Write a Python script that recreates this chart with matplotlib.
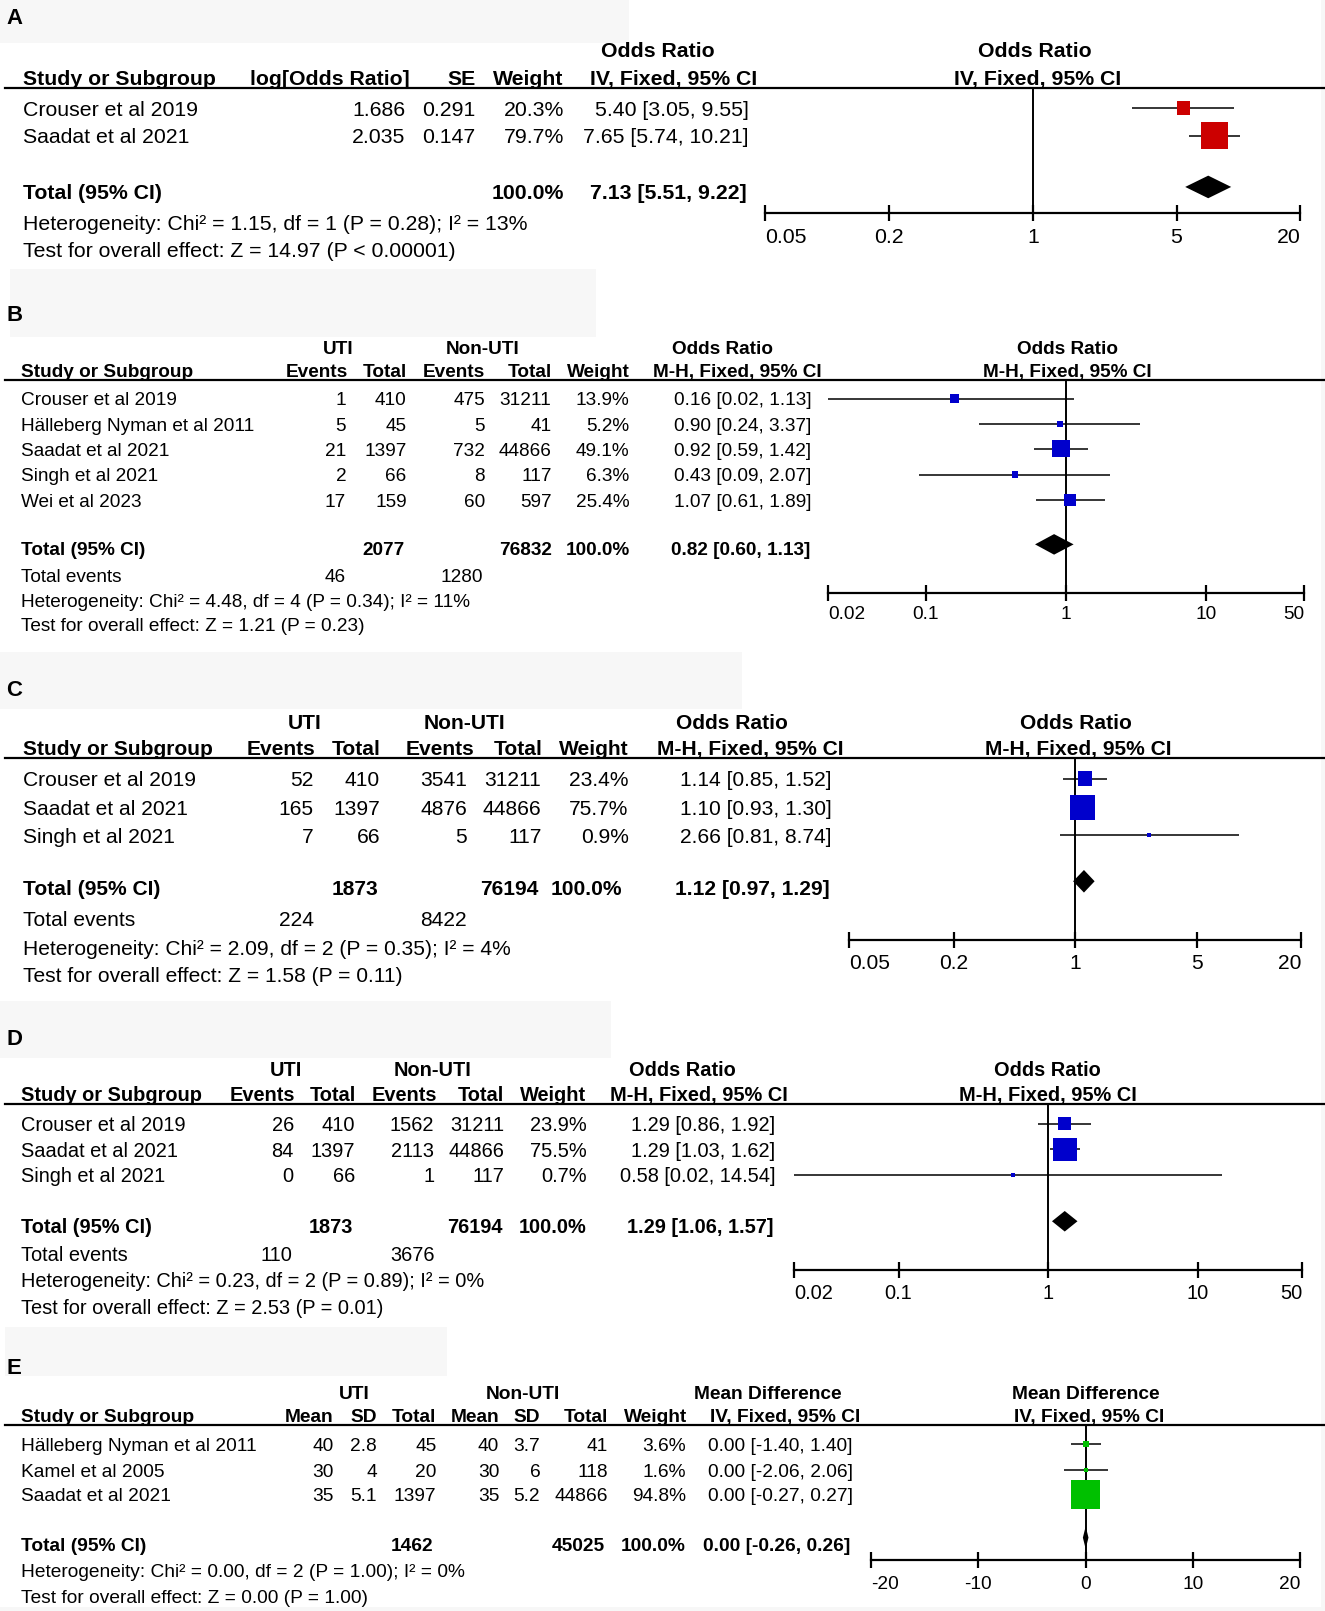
import numpy as np
import matplotlib
matplotlib.use("Agg")
import matplotlib.pyplot as plt
from matplotlib.patches import Rectangle
from matplotlib.ticker import NullLocator

plt.rcParams['font.family'] = ['Liberation Sans', 'DejaVu Sans']

W, H = 1325, 1611
S = 1325 / 1290.0          # layout below is written on a 1290 wide grid
Wd, Hd = W / S, H / S

# ---------------- data ----------------
# A : IV fixed, log odds ratio
a_studies = ["Crouser et al 2019", "Saadat et al 2021"]
a_log_or = [1.686, 2.035]
a_se = [0.291, 0.147]
a_weight = [20.3, 79.7]
a_or = [5.40, 7.65]
a_lo = [3.05, 5.74]
a_hi = [9.55, 10.21]
a_total = [7.13, 5.51, 9.22]
a_het = "Heterogeneity: Chi² = 1.15, df = 1 (P = 0.28); I² = 13%"
a_test = "Test for overall effect: Z = 14.97 (P < 0.00001)"
a_ticks = [0.05, 0.2, 1, 5, 20]

# B
b_studies = ["Crouser et al 2019", "Hälleberg Nyman et al 2011", "Saadat et al 2021",
             "Singh et al 2021", "Wei et al 2023"]
b_uti_events = [1, 5, 21, 2, 17]
b_uti_total = [410, 45, 1397, 66, 159]
b_non_events = [475, 5, 732, 8, 60]
b_non_total = [31211, 41, 44866, 117, 597]
b_weight = [13.9, 5.2, 49.1, 6.3, 25.4]
b_or = [0.16, 0.90, 0.92, 0.43, 1.07]
b_lo = [0.02, 0.24, 0.59, 0.09, 0.61]
b_hi = [1.13, 3.37, 1.42, 2.07, 1.89]
b_total = [0.82, 0.60, 1.13]
b_sum_total = [2077, 76832]
b_sum_events = [46, 1280]
b_het = "Heterogeneity: Chi² = 4.48, df = 4 (P = 0.34); I² = 11%"
b_test = "Test for overall effect: Z = 1.21 (P = 0.23)"
b_ticks = [0.02, 0.1, 1, 10, 50]

# C
c_studies = ["Crouser et al 2019", "Saadat et al 2021", "Singh et al 2021"]
c_uti_events = [52, 165, 7]
c_uti_total = [410, 1397, 66]
c_non_events = [3541, 4876, 5]
c_non_total = [31211, 44866, 117]
c_weight = [23.4, 75.7, 0.9]
c_or = [1.14, 1.10, 2.66]
c_lo = [0.85, 0.93, 0.81]
c_hi = [1.52, 1.30, 8.74]
c_total = [1.12, 0.97, 1.29]
c_sum_total = [1873, 76194]
c_sum_events = [224, 8422]
c_het = "Heterogeneity: Chi² = 2.09, df = 2 (P = 0.35); I² = 4%"
c_test = "Test for overall effect: Z = 1.58 (P = 0.11)"
c_ticks = [0.05, 0.2, 1, 5, 20]

# D
d_studies = ["Crouser et al 2019", "Saadat et al 2021", "Singh et al 2021"]
d_uti_events = [26, 84, 0]
d_uti_total = [410, 1397, 66]
d_non_events = [1562, 2113, 1]
d_non_total = [31211, 44866, 117]
d_weight = [23.9, 75.5, 0.7]
d_or = [1.29, 1.29, 0.58]
d_lo = [0.86, 1.03, 0.02]
d_hi = [1.92, 1.62, 14.54]
d_total = [1.29, 1.06, 1.57]
d_sum_total = [1873, 76194]
d_sum_events = [110, 3676]
d_het = "Heterogeneity: Chi² = 0.23, df = 2 (P = 0.89); I² = 0%"
d_test = "Test for overall effect: Z = 2.53 (P = 0.01)"
d_ticks = [0.02, 0.1, 1, 10, 50]

# E : mean difference
e_studies = ["Hälleberg Nyman et al 2011", "Kamel et al 2005", "Saadat et al 2021"]
e_uti_mean = [40, 30, 35]
e_uti_sd = [2.8, 4, 5.1]
e_uti_total = [45, 20, 1397]
e_non_mean = [40, 30, 35]
e_non_sd = [3.7, 6, 5.2]
e_non_total = [41, 118, 44866]
e_weight = [3.6, 1.6, 94.8]
e_md = [0.00, 0.00, 0.00]
e_lo = [-1.40, -2.06, -0.27]
e_hi = [1.40, 2.06, 0.27]
e_total = [0.00, -0.26, 0.26]
e_sum_total = [1462, 45025]
e_het = "Heterogeneity: Chi² = 0.00, df = 2 (P = 1.00); I² = 0%"
e_test = "Test for overall effect: Z = 0.00 (P = 1.00)"
e_ticks = [-20, -10, 0, 10, 20]


fig = plt.figure(figsize=(W / 100, H / 100), dpi=100)
bg = fig.add_axes([0, 0, 1, 1])
bg.set_xlim(0, Wd)
bg.set_ylim(Hd, 0)
bg.axis('off')


def txt(x, y, s, fs, ha='left', bold=False, base=False):
    # y = middle of the capitals, or the baseline if base
    yb = y if base else y + 0.36 * fs / 0.72
    bg.text(x, yb, s, fontsize=fs * S, ha=ha, va='baseline',
            fontweight='bold' if bold else 'normal')


def ci(v, lo, hi):
    return "%.2f [%.2f, %.2f]" % (v, lo, hi)


def forest(x0, x1, line_y, axis_y, ticks, est, lo, hi, wt, rows, tot, tot_y,
           color, k, dh, fs, pad, log=True):
    ax = fig.add_axes([x0 / Wd, 1 - axis_y / Hd, (x1 - x0) / Wd, (axis_y - line_y) / Hd])
    if log:
        ax.set_xscale('log')
    ax.set_xlim(ticks[0], ticks[-1])
    ax.set_ylim(axis_y, line_y)
    ax.patch.set_alpha(0)
    for s in ['top', 'left', 'right']:
        ax.spines[s].set_visible(False)
    ax.spines['bottom'].set_linewidth(1.6)
    ax.set_xticks(ticks)
    ax.set_xticklabels(["%g" % t for t in ticks])
    ax.xaxis.set_minor_locator(NullLocator())
    ax.tick_params(axis='x', direction='inout', length=11 * S, width=1.6,
                   labelsize=fs * S, pad=pad)
    labs = ax.get_xticklabels()
    labs[0].set_ha('left')
    labs[-1].set_ha('right')
    ax.set_yticks([])
    ax.axvline(0 if not log else 1, color='black', lw=1.4, zorder=1)
    ax.hlines(rows, lo, hi, color='black', lw=1.1, zorder=2)
    sizes = [(max(4, k * np.sqrt(w)) * S * 0.72) ** 2 for w in wt]
    ax.scatter(est, rows, marker='s', s=sizes, color=color, linewidths=0, zorder=3)
    v, l, h = tot
    ax.fill([l, v, h, v], [tot_y, tot_y - dh, tot_y, tot_y + dh], color='black',
            lw=0, zorder=3)
    return ax


def hline(y):
    bg.plot([5, Wd], [y, y], color='black', lw=1.6)


def gray_box(x, y, w, h):
    bg.add_patch(Rectangle((x, y), w, h, color='#f7f7f7', lw=0, zorder=0))


# faint frame at the right and bottom edges
gray_box(Wd - 4, 0, 4, Hd)
gray_box(0, Hd - 4, Wd, 4)

# ---------------- A ----------------
fs = 14.9
gray_box(0, 0, 612, 42)
txt(6, 16, "A", 15.5, bold=True)
txt(640, 48, "Odds Ratio", fs, 'center', True)
txt(1007, 48, "Odds Ratio", fs, 'center', True)
hb = 83
txt(22, hb, "Study or Subgroup", fs, bold=True, base=True)
txt(399, hb, "log[Odds Ratio]", fs, 'right', True, True)
txt(463, hb, "SE", fs, 'right', True, True)
txt(549, hb, "Weight", fs, 'right', True, True)
txt(656, hb, "IV, Fixed, 95% CI", fs, 'center', True, True)
txt(1010, hb, "IV, Fixed, 95% CI", fs, 'center', True, True)
hline(86)
a_rows = [105, 132]
for i, y in enumerate(a_rows):
    txt(22, y, a_studies[i], fs)
    txt(395, y, "%.3f" % a_log_or[i], fs, 'right')
    txt(463, y, "%.3f" % a_se[i], fs, 'right')
    txt(549, y, "%.1f%%" % a_weight[i], fs, 'right')
    txt(729, y, ci(a_or[i], a_lo[i], a_hi[i]), fs, 'right')
txt(22, 186, "Total (95% CI)", fs, bold=True)
txt(549, 186, "100.0%", fs, 'right', True)
txt(727, 186, ci(*a_total), fs, 'right', True)
txt(22, 216, a_het, fs)
txt(22, 243, a_test, fs)
forest(745, 1266, 86, 207, a_ticks, a_or, a_lo, a_hi, a_weight, a_rows, a_total, 182,
       '#cc0000', 2.9, 11, fs, 5.5)

# ---------------- B ----------------
fs = 13.3
gray_box(10, 262, 570, 66)
txt(6, 305, "B", 15.5, bold=True)
txt(329, 338, "UTI", fs, 'center', True)
txt(470, 338, "Non-UTI", fs, 'center', True)
txt(703, 338, "Odds Ratio", fs, 'center', True)
txt(1039, 338, "Odds Ratio", fs, 'center', True)
hb = 367
txt(20, hb, "Study or Subgroup", fs, bold=True, base=True)
txt(339, hb, "Events", fs, 'right', True, True)
txt(396, hb, "Total", fs, 'right', True, True)
txt(472, hb, "Events", fs, 'right', True, True)
txt(537, hb, "Total", fs, 'right', True, True)
txt(613, hb, "Weight", fs, 'right', True, True)
txt(718, hb, "M-H, Fixed, 95% CI", fs, 'center', True, True)
txt(1039, hb, "M-H, Fixed, 95% CI", fs, 'center', True, True)
hline(370)
b_rows = [388, 413, 437, 462, 487]
for i, y in enumerate(b_rows):
    txt(20, y, b_studies[i], fs)
    txt(337, y, str(b_uti_events[i]), fs, 'right')
    txt(396, y, str(b_uti_total[i]), fs, 'right')
    txt(472, y, str(b_non_events[i]), fs, 'right')
    txt(537, y, str(b_non_total[i]), fs, 'right')
    txt(613, y, "%.1f%%" % b_weight[i], fs, 'right')
    txt(790, y, ci(b_or[i], b_lo[i], b_hi[i]), fs, 'right')
txt(20, 534, "Total (95% CI)", fs, bold=True)
txt(394, 534, str(b_sum_total[0]), fs, 'right', True)
txt(537, 534, str(b_sum_total[1]), fs, 'right', True)
txt(613, 534, "100.0%", fs, 'right', True)
txt(789, 534, ci(*b_total), fs, 'right', True)
txt(20, 560, "Total events", fs)
txt(337, 560, str(b_sum_events[0]), fs, 'right')
txt(470, 560, str(b_sum_events[1]), fs, 'right')
txt(20, 584, b_het, fs)
txt(20, 608, b_test, fs)
forest(806, 1270, 370, 577, b_ticks, b_or, b_lo, b_hi, b_weight, b_rows, b_total, 530,
       '#0000cc', 2.4, 10, fs, 4)

# ---------------- C ----------------
fs = 14.7
gray_box(0, 635, 722, 55)
txt(6, 670, "C", 15.5, bold=True)
txt(297, 702, "UTI", fs, 'center', True)
txt(452, 702, "Non-UTI", fs, 'center', True)
txt(713, 702, "Odds Ratio", fs, 'center', True)
txt(1048, 702, "Odds Ratio", fs, 'center', True)
hb = 735
txt(22, hb, "Study or Subgroup", fs, bold=True, base=True)
txt(307, hb, "Events", fs, 'right', True, True)
txt(371, hb, "Total", fs, 'right', True, True)
txt(462, hb, "Events", fs, 'right', True, True)
txt(528, hb, "Total", fs, 'right', True, True)
txt(612, hb, "Weight", fs, 'right', True, True)
txt(730, hb, "M-H, Fixed, 95% CI", fs, 'center', True, True)
txt(1050, hb, "M-H, Fixed, 95% CI", fs, 'center', True, True)
hline(738)
c_rows = [758, 786, 813]
for i, y in enumerate(c_rows):
    txt(22, y, c_studies[i], fs)
    txt(305, y, str(c_uti_events[i]), fs, 'right')
    txt(370, y, str(c_uti_total[i]), fs, 'right')
    txt(455, y, str(c_non_events[i]), fs, 'right')
    txt(527, y, str(c_non_total[i]), fs, 'right')
    txt(612, y, "%.1f%%" % c_weight[i], fs, 'right')
    txt(810, y, ci(c_or[i], c_lo[i], c_hi[i]), fs, 'right')
txt(22, 864, "Total (95% CI)", fs, bold=True)
txt(368, 864, str(c_sum_total[0]), fs, 'right', True)
txt(524, 864, str(c_sum_total[1]), fs, 'right', True)
txt(606, 864, "100.0%", fs, 'right', True)
txt(808, 864, ci(*c_total), fs, 'right', True)
txt(22, 894, "Total events", fs)
txt(306, 894, str(c_sum_events[0]), fs, 'right')
txt(454, 894, str(c_sum_events[1]), fs, 'right')
txt(22, 922, c_het, fs)
txt(22, 949, c_test, fs)
forest(827, 1267, 738, 915, c_ticks, c_or, c_lo, c_hi, c_weight, c_rows, c_total, 858,
       '#0000cc', 2.85, 11, fs, 4.5)

# ---------------- D ----------------
fs = 14.0
gray_box(0, 975, 595, 55)
txt(6, 1010, "D", 15.5, bold=True)
txt(278, 1041, "UTI", fs, 'center', True)
txt(421, 1041, "Non-UTI", fs, 'center', True)
txt(664, 1041, "Odds Ratio", fs, 'center', True)
txt(1020, 1041, "Odds Ratio", fs, 'center', True)
hb = 1072
txt(20, hb, "Study or Subgroup", fs, bold=True, base=True)
txt(287, hb, "Events", fs, 'right', True, True)
txt(347, hb, "Total", fs, 'right', True, True)
txt(426, hb, "Events", fs, 'right', True, True)
txt(491, hb, "Total", fs, 'right', True, True)
txt(571, hb, "Weight", fs, 'right', True, True)
txt(680, hb, "M-H, Fixed, 95% CI", fs, 'center', True, True)
txt(1020, hb, "M-H, Fixed, 95% CI", fs, 'center', True, True)
hline(1075)
d_rows = [1094, 1119, 1144]
for i, y in enumerate(d_rows):
    txt(20, y, d_studies[i], fs)
    txt(286, y, str(d_uti_events[i]), fs, 'right')
    txt(346, y, str(d_uti_total[i]), fs, 'right')
    txt(423, y, str(d_non_events[i]), fs, 'right')
    txt(491, y, str(d_non_total[i]), fs, 'right')
    txt(571, y, "%.1f%%" % d_weight[i], fs, 'right')
    txt(755, y, ci(d_or[i], d_lo[i], d_hi[i]), fs, 'right')
txt(20, 1193, "Total (95% CI)", fs, bold=True)
txt(344, 1193, str(d_sum_total[0]), fs, 'right', True)
txt(489, 1193, str(d_sum_total[1]), fs, 'right', True)
txt(571, 1193, "100.0%", fs, 'right', True)
txt(753, 1193, ci(*d_total), fs, 'right', True)
txt(20, 1221, "Total events", fs)
txt(285, 1221, str(d_sum_events[0]), fs, 'right')
txt(423, 1221, str(d_sum_events[1]), fs, 'right')
txt(20, 1246, d_het, fs)
txt(20, 1272, d_test, fs)
forest(773, 1268, 1075, 1236, d_ticks, d_or, d_lo, d_hi, d_weight, d_rows, d_total, 1189,
       '#0000cc', 2.65, 10, fs, 5)

# ---------------- E ----------------
fs = 13.4
gray_box(5, 1292, 430, 48)
txt(6, 1330, "E", 15.5, bold=True)
txt(345, 1355, "UTI", fs, 'center', True)
txt(509, 1355, "Non-UTI", fs, 'center', True)
txt(748, 1355, "Mean Difference", fs, 'center', True)
txt(1057, 1355, "Mean Difference", fs, 'center', True)
hb = 1384
txt(20, hb, "Study or Subgroup", fs, bold=True, base=True)
txt(325, hb, "Mean", fs, 'right', True, True)
txt(367, hb, "SD", fs, 'right', True, True)
txt(425, hb, "Total", fs, 'right', True, True)
txt(486, hb, "Mean", fs, 'right', True, True)
txt(526, hb, "SD", fs, 'right', True, True)
txt(592, hb, "Total", fs, 'right', True, True)
txt(669, hb, "Weight", fs, 'right', True, True)
txt(764, hb, "IV, Fixed, 95% CI", fs, 'center', True, True)
txt(1060, hb, "IV, Fixed, 95% CI", fs, 'center', True, True)
hline(1387)
e_rows = [1406, 1431, 1455]
for i, y in enumerate(e_rows):
    txt(20, y, e_studies[i], fs)
    txt(325, y, "%g" % e_uti_mean[i], fs, 'right')
    txt(367, y, "%g" % e_uti_sd[i], fs, 'right')
    txt(425, y, str(e_uti_total[i]), fs, 'right')
    txt(486, y, "%g" % e_non_mean[i], fs, 'right')
    txt(526, y, "%g" % e_non_sd[i], fs, 'right')
    txt(592, y, str(e_non_total[i]), fs, 'right')
    txt(668, y, "%.1f%%" % e_weight[i], fs, 'right')
    txt(830, y, ci(e_md[i], e_lo[i], e_hi[i]), fs, 'right')
txt(20, 1503, "Total (95% CI)", fs, bold=True)
txt(422, 1503, str(e_sum_total[0]), fs, 'right', True)
txt(589, 1503, str(e_sum_total[1]), fs, 'right', True)
txt(668, 1503, "100.0%", fs, 'right', True)
txt(828, 1503, ci(*e_total), fs, 'right', True)
txt(20, 1529, e_het, fs)
txt(20, 1554, e_test, fs)
forest(848, 1266, 1387, 1519, e_ticks, e_md, e_lo, e_hi, e_weight, e_rows, e_total, 1497,
       '#00c000', 2.9, 11, fs, 5.5, log=False)

fig.savefig("out.png", dpi=100)
